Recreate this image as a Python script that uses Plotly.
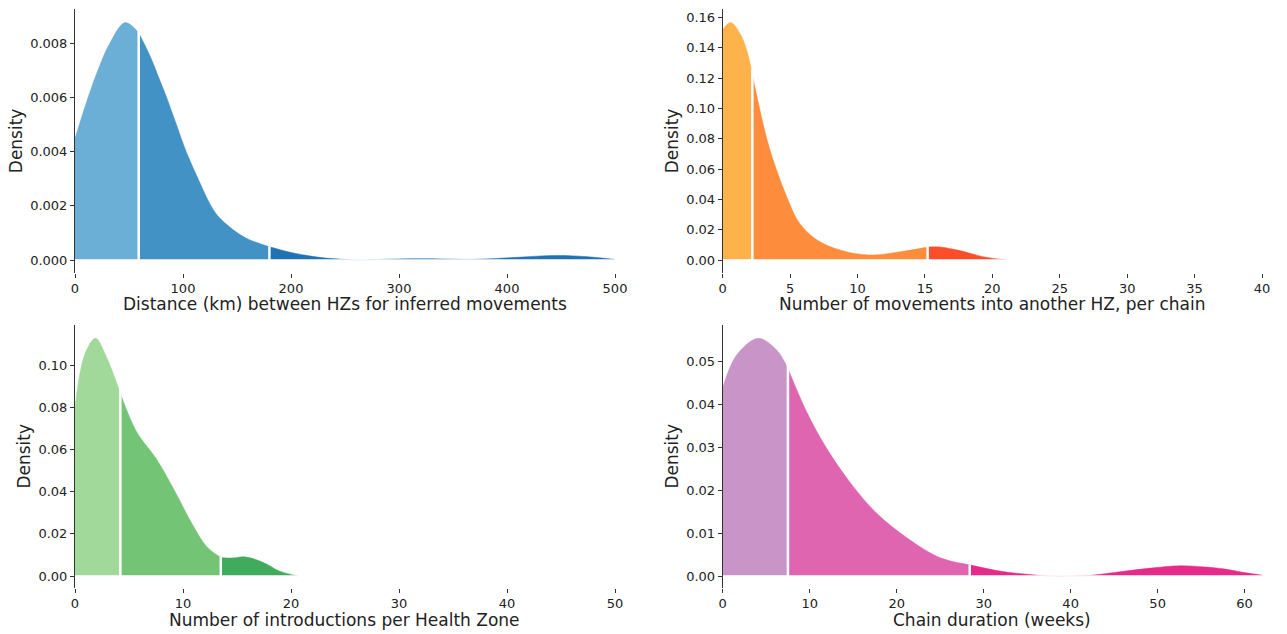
import plotly.graph_objects as go

# ---- Data (density curves + split points) ----
dist_x = [0, 12, 22, 32, 46.5, 59, 70, 78, 84, 94, 103, 114, 126, 134, 143, 152, 162, 180, 200, 226, 250, 262, 275, 300, 325, 350, 365, 380, 410, 445, 475, 500]
dist_d = [0.0045, 0.0060, 0.0071, 0.0080, 0.00878, 0.0084, 0.0075, 0.0067, 0.0061, 0.0050, 0.0040, 0.0030, 0.0020, 0.00155, 0.00123, 0.00096, 0.00074, 0.00049, 0.00028, 0.0001, 0.00002, 0.0, 0.00001, 0.00004, 0.00005, 0.00003, 0.00002, 0.00004, 0.0001, 0.00017, 0.00012, 0.00002]
dist_splits = [59, 180]

moves_x = [0, 0.6, 1.3, 1.8, 2.2, 3.3, 4.0, 4.75, 5.7, 7.0, 8.7, 10.9, 13.2, 15.2, 16.1, 17.6, 19.3, 21.1]
moves_d = [0.152, 0.1566, 0.149, 0.138, 0.122, 0.079, 0.0593, 0.0417, 0.0242, 0.0132, 0.0066, 0.0033, 0.0055, 0.0085, 0.0086, 0.0062, 0.0022, 0.0]
moves_splits = [2.2, 15.2]

intro_x = [0, 0.9, 1.9, 2.9, 4.2, 5.7, 7.5, 9.1, 10.9, 12.2, 13.5, 14.5, 15.7, 17.4, 18.9, 20.6]
intro_d = [0.080, 0.105, 0.1127, 0.104, 0.0866, 0.0684, 0.0558, 0.0416, 0.0242, 0.0139, 0.0088, 0.0085, 0.0091, 0.0065, 0.0024, 0.0]
intro_splits = [4.2, 13.5]

dur_x = [0, 1.6, 4.1, 6.2, 7.5, 9.65, 11.95, 14.6, 17.7, 21.1, 24.2, 26.0, 28.4, 32.0, 35, 37.5, 40, 42, 46.1, 49.5, 52.6, 55.5, 57.5, 60, 62]
dur_d = [0.0438, 0.0514, 0.0553, 0.0526, 0.0483, 0.0382, 0.0297, 0.0219, 0.0146, 0.0090, 0.0050, 0.0036, 0.0026, 0.0011, 0.0004, 0.0, 0.0, 0.0001, 0.0011, 0.0019, 0.0024, 0.0021, 0.0017, 0.0008, 0.0002]
dur_splits = [7.5, 28.4]

x_titles = ["Distance (km) between HZs for inferred movements",
            "Number of movements into another HZ, per chain",
            "Number of introductions per Health Zone",
            "Chain duration (weeks)"]

blues = ["#6baed6", "#4292c6", "#2171b5"]
oranges = ["#feb24c", "#fd8d3c", "#fc4e2a"]
greens = ["#a1d99b", "#74c476", "#41ab5d"]
pinks = ["#c994c7", "#df65b0", "#e7298a"]

panels = [
    dict(x=dist_x, d=dist_d, s=dist_splits, c=blues, xa="x", ya="y"),
    dict(x=moves_x, d=moves_d, s=moves_splits, c=oranges, xa="x2", ya="y2"),
    dict(x=intro_x, d=intro_d, s=intro_splits, c=greens, xa="x3", ya="y3"),
    dict(x=dur_x, d=dur_d, s=dur_splits, c=pinks, xa="x4", ya="y4"),
]

fig = go.Figure()
for p in panels:
    xs, ds = p["x"], p["d"]
    bounds = [xs[0]] + p["s"] + [xs[-1]]
    for i in range(3):
        lo, hi = bounds[i], bounds[i + 1]
        sx = [v for v in xs if lo <= v <= hi]
        sd = [ds[j] for j, v in enumerate(xs) if lo <= v <= hi]
        fig.add_trace(go.Scatter(x=sx, y=sd, mode="lines", fill="tozeroy",
                                 fillcolor=p["c"][i],
                                 line=dict(color=p["c"][i], width=0.5, shape="spline", smoothing=1.0),
                                 xaxis=p["xa"], yaxis=p["ya"], showlegend=False, hoverinfo="skip"))
    # white baseline
    fig.add_trace(go.Scatter(x=[xs[0], xs[-1]], y=[0, 0], mode="lines",
                             line=dict(color="white", width=1.5),
                             xaxis=p["xa"], yaxis=p["ya"], showlegend=False, hoverinfo="skip"))
    # white split lines
    for s in p["s"]:
        ds_ = ds[xs.index(s)]
        fig.add_trace(go.Scatter(x=[s, s], y=[0, ds_ * 1.03], mode="lines",
                                 line=dict(color="white", width=2.5),
                                 xaxis=p["xa"], yaxis=p["ya"], showlegend=False, hoverinfo="skip"))

# body margin is removed by the post script, so the figure fills the window
W, H = 1287, 634
left_dom = [75 / W, 615 / W]
right_dom = [722.7 / W, 1262 / W]
top_dom = [1 - 272.5 / H, 1 - 9.3 / H]
bot_dom = [1 - 587.5 / H, 1 - 325 / H]

font_family = "DejaVu Sans"
tick_font = dict(family=font_family, size=13, color="#222")
title_font = dict(family=font_family, size=17, color="#222")


def xaxis(dom, anchor, rng, dtick):
    return dict(domain=dom, anchor=anchor, range=rng, dtick=dtick, tick0=0, automargin=False,
                showline=False, showgrid=False, zeroline=False,
                ticks="outside", ticklen=4, tickwidth=1, tickcolor="#333",
                tickfont=tick_font)


def yaxis(dom, anchor, rng, dtick, fmt):
    return dict(domain=dom, anchor=anchor, range=rng, dtick=dtick, tick0=0, tickformat=fmt, automargin=False,
                showline=True, linecolor="#333", linewidth=1, showgrid=False, zeroline=False,
                ticks="outside", ticklen=4, tickwidth=1, tickcolor="#333",
                tickfont=tick_font, title=dict(text="Density", font=title_font, standoff=3))


# x-axis titles as annotations at the reference positions
title_pos = [(left_dom, 304), (right_dom, 304), (left_dom, 620), (right_dom, 620)]
annotations = []
for (dom, ypx), txt in zip(title_pos, x_titles):
    annotations.append(dict(text=txt, xref="paper", yref="paper",
                            x=(dom[0] + dom[1]) / 2, y=1 - ypx / H,
                            xanchor="center", yanchor="middle", showarrow=False,
                            font=title_font))

fig.update_layout(
    width=W, height=H, margin=dict(l=0, r=0, t=0, b=0),
    paper_bgcolor="white", plot_bgcolor="white",
    xaxis=xaxis(left_dom, "y", [0, 500], 100),
    yaxis=yaxis(top_dom, "x", [-0.000462, 0.00927], 0.002, ".3f"),
    xaxis2=xaxis(right_dom, "y2", [0, 40], 5),
    yaxis2=yaxis(top_dom, "x2", [-0.00823, 0.1653], 0.02, ".2f"),
    xaxis3=xaxis(left_dom, "y3", [0, 50], 10),
    yaxis3=yaxis(bot_dom, "x3", [-0.00545, 0.119], 0.02, ".2f"),
    xaxis4=xaxis(right_dom, "y4", [0, 62], 10),
    yaxis4=yaxis(bot_dom, "x4", [-0.00267, 0.0584], 0.01, ".2f"),
    annotations=annotations,
)

fig.write_html("out.html", config={"displayModeBar": False},
               post_script="document.body.style.margin='0';document.body.style.overflow='hidden';")
